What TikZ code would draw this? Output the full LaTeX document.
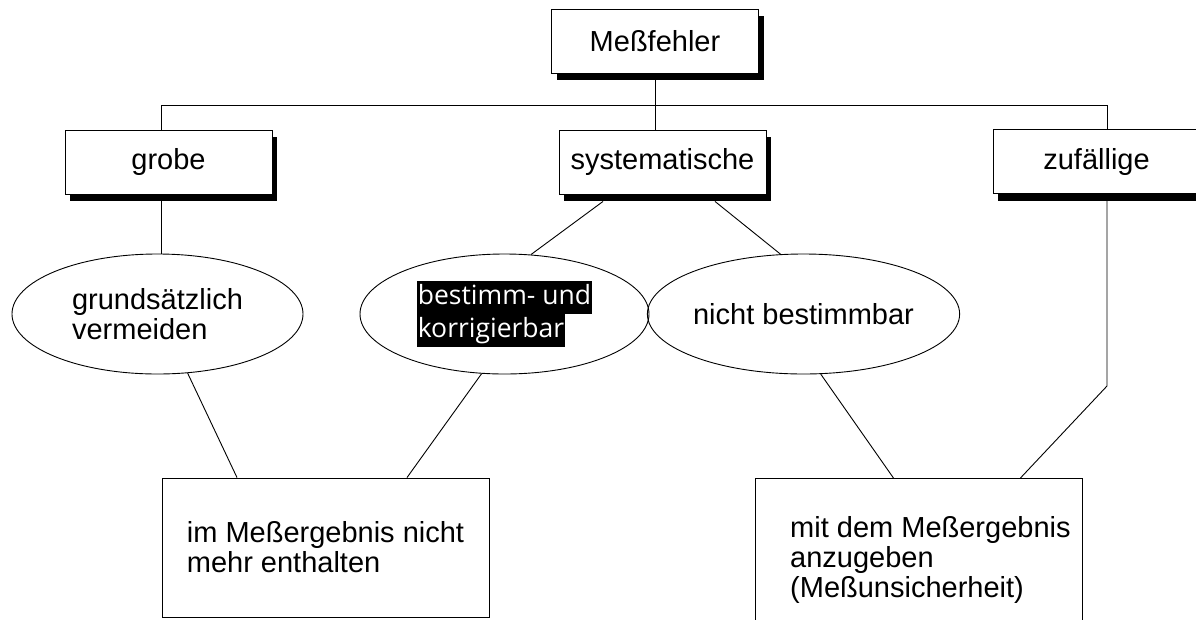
\documentclass[tikz,border=0pt]{standalone}
\usepackage{fontspec}
\setmainfont{Liberation Sans}
\newfontfamily\markfont{Open Sans}
\usetikzlibrary{shapes.geometric}
\usetikzlibrary{shadows}

\setlength{\fboxsep}{0pt}
\newcommand{\markiert}[1]{\colorbox{black}{\kern1pt\textcolor{white}{\strut #1}\kern1pt}}

\tikzset{
  kasten/.style={draw, fill=white, line width=0.9pt, inner sep=0pt,
    minimum width=207pt, minimum height=64pt,
    drop shadow={shadow xshift=5pt, shadow yshift=-7pt, fill=black, opacity=1}},
  oval/.style={draw, ellipse, line width=0.9pt, inner sep=0pt, align=left,
    minimum width=291pt, minimum height=120pt},
  feld/.style={draw, line width=0.9pt, inner sep=0pt, align=left},
  linie/.style={line width=0.9pt}
}

\begin{document}
\begin{tikzpicture}[x=1pt,y=-1pt,font=\fontsize{29}{30}\selectfont]
                \useasboundingbox (0,0) rectangle (1196,619);
                \node[kasten] (MF) at (655,41) {Meßfehler};
                \node[kasten] (GR) at (168.5,162) {grobe};
                \node[kasten] (SY) at (662.5,162) {systematische};
                \node[kasten] (ZU) at (1096.5,161.5) {zufällige};
                \node[oval] (VM) at (157.5,314) {grundsätzlich\\vermeiden};
                \node[oval, minimum width=289pt, font=\markfont\fontsize{26.5}{33}\selectfont] (KB) at (504.5,314) {\markiert{bestimm- und}\\\markiert{korrigierbar}};
                \node[oval] (NB) at (803.5,314) {nicht bestimmbar};
                \node[feld, minimum width=327pt, minimum height=139pt] (NE) at (325.5,547.5) {im Meßergebnis nicht\\mehr enthalten};
                \node[feld, minimum width=327pt, minimum height=160pt, anchor=north west] (MU) at (755,478) {};
                \node[anchor=north west, align=left, inner sep=0pt] (MUT) at (790,516) {mit dem Meßergebnis\\anzugeben\\(Meßunsicherheit)};
                \coordinate (GL) at (161,105);
                \coordinate (ZL) at (1107,105);
                \coordinate (ZK) at (1107,386);
                \draw[linie] (MF.south) -- (MF.south |- SY.north);
                \draw[linie] (GL |- GR.north) -- (GL) -- (ZL) -- (ZL |- ZU.north);
                \draw[linie] (GL |- GR.south) -- (GL |- VM.north);
                \draw[linie] ([xshift=-59.5pt,yshift=-7pt]SY.south) -- (KB.66);
                \draw[linie] ([xshift=52.5pt,yshift=-7pt]SY.south) -- (NB.111);
                \draw[linie] (VM.297) -- ([xshift=-88.5pt]NE.north);
                \draw[linie] (KB.249) -- ([xshift=81.5pt]NE.north);
                \draw[linie] (NB.286) -- ([xshift=-25.5pt]MU.north);
                \draw[linie] (ZL |- ZU.south) -- (ZK) -- ([xshift=101.5pt]MU.north);
            \end{tikzpicture}
\end{document}
